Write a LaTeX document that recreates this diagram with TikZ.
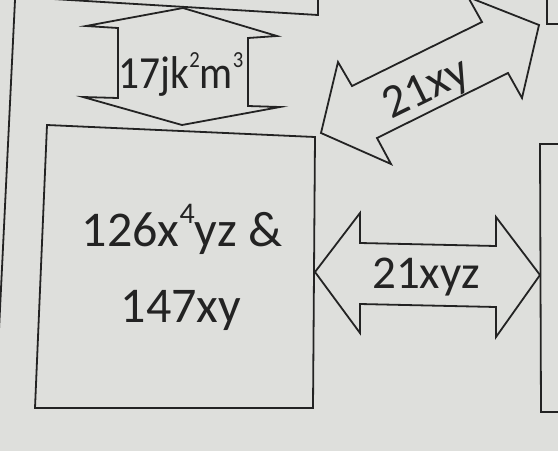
\documentclass[tikz,border=0pt]{standalone}
\usepackage{fontspec}
\setmainfont{Carlito}
\newfontfamily\narrowfont[FakeStretch=0.9]{Carlito}
\definecolor{paper}{RGB}{222,223,220}
\definecolor{ink}{RGB}{35,35,35}
\newcommand{\up}[2][0.6]{\raisebox{0.45em}{\scalebox{#1}{#2}}}

\begin{document}
\begin{tikzpicture}[x=1pt, y=-1pt,
    outline/.style={draw=ink, line width=1.8pt, line join=miter},
    term/.style={text=ink, inner sep=0pt, anchor=base, font=\fontsize{50}{60}\selectfont},
    smallterm/.style={term, font=\fontsize{47}{54}\selectfont}
 ]
\useasboundingbox (0,0) rectangle (558,451);
\fill[paper] (0,0) rectangle (558,451);
\clip (0,0) rectangle (558,451);

% edges of the sheet and of the boxes
\draw[outline] (15,0) -- (-1,330);
\draw[outline] (53,-1) -- (318,15) -- (318,-1);
\draw[outline] (547,-1) -- (547,24) -- (559,24);
\draw[outline] (559,144) -- (540,144) -- (541,412) -- (559,412);
\draw[outline] (47,125) -- (315,137) -- (313,408) -- (35,408) -- cycle;

% double arrows
\draw[outline] (183,8) -- (277,36) -- (248,38) -- (248,106) -- (280,107)
    -- (182,125) -- (83,97) -- (118,98) -- (118,28) -- (86,26) -- cycle;
\draw[outline] (315,272) -- (360,213) -- (360,243) -- (496,246) -- (496,217)
    -- (540,275) -- (496,337) -- (496,307) -- (360,304) -- (360,333) -- cycle;
\draw[outline] (321,133) -- (338,62) -- (352,86) -- (482,22) -- (468,-3)
    -- (539,25) -- (522,98) -- (508,73) -- (377,138) -- (391,164) -- cycle;

% terms
\node[term] (Prod) at (182,246) {126x\up{4}yz \&};
\node[term] (Prod2) at (181,322) {147xy};
\node[smallterm] (Gcf) at (426,288) {21xyz};
\node[smallterm, font=\fontsize{46}{54}\narrowfont] (Top) at (181,88)
    {17jk\up[0.5]{2}m\up[0.5]{3}};
\node[smallterm, anchor=center, rotate=26] (Diag) at (427,90) {21xy};
\end{tikzpicture}
\end{document}
